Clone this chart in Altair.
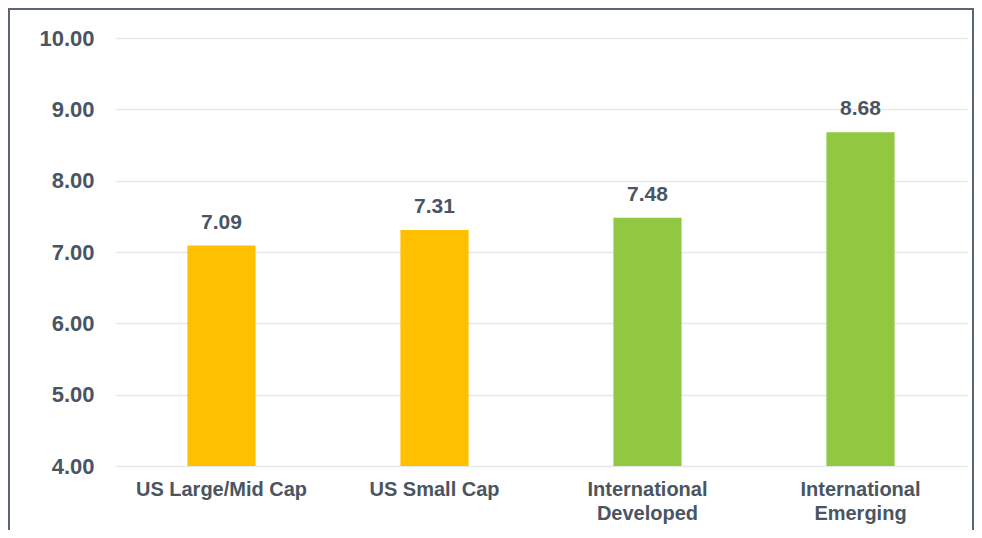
import altair as alt
import pandas as pd

categories = ["US Large/Mid Cap", "US Small Cap", "International|Developed", "International|Emerging"]
values = [7.09, 7.31, 7.48, 8.68]
groups = ["US", "US", "Intl", "Intl"]

df = pd.DataFrame({"cat": categories, "val": values, "grp": groups})

FONT = "Liberation Sans"
TXT = "#4a5561"
FRAME = "#5b6670"

x = alt.X("cat:N", sort=categories, title=None,
          scale=alt.Scale(paddingInner=0.68, paddingOuter=0.34),
          axis=alt.Axis(labelAngle=0, labelExpr="split(datum.label, '|')",
                        labelFont=FONT, labelFontSize=20, labelFontWeight="bold",
                        labelColor=TXT, labelPadding=13, labelLineHeight=24,
                        ticks=False, domain=False, grid=False))
y = alt.Y("val:Q", title=None,
          scale=alt.Scale(domain=[4, 10], nice=False, zero=False),
          axis=alt.Axis(values=[4, 5, 6, 7, 8, 9, 10], format=".2f",
                        labelFont=FONT, labelFontSize=22, labelFontWeight="bold",
                        labelColor=TXT, labelPadding=21,
                        ticks=False, domain=False, grid=True,
                        gridColor="#e6e9ec", gridWidth=1.5))

bars = alt.Chart(df).mark_bar(clip=True).encode(
    x=x, y=y, y2=alt.datum(4),
    color=alt.Color("grp:N", scale=alt.Scale(domain=["US", "Intl"], range=["#FFC000", "#92C841"]), legend=None),
)

labels = alt.Chart(df).mark_text(dy=-23, baseline="middle", font=FONT, fontSize=21, fontWeight="bold", color=TXT).encode(
    x=alt.X("cat:N", sort=categories),
    y="val:Q",
    text=alt.Text("val:Q", format=".2f"),
)

frame_src = pd.DataFrame({"k": [0]})
left_line = alt.Chart(frame_src).mark_rule(color=FRAME, strokeWidth=2).encode(
    x=alt.value(-106), y=alt.value(-29), y2=alt.value(560))
top_line = alt.Chart(frame_src).mark_rule(color=FRAME, strokeWidth=2).encode(
    x=alt.value(-107), x2=alt.value(859), y=alt.value(-29))
right_line = alt.Chart(frame_src).mark_rule(color=FRAME, strokeWidth=2).encode(
    x=alt.value(858), y=alt.value(-29), y2=alt.value(560))

chart = alt.layer(bars, labels, left_line, top_line, right_line).properties(
    width=852, height=428,
    background="white",
    autosize=alt.AutoSizeParams(type="none"),
    padding={"left": 107, "top": 30, "right": 7, "bottom": 64},
).configure_view(strokeWidth=0, stroke=None)

chart.save("out.html", embed_options={"renderer": "svg", "actions": False})
